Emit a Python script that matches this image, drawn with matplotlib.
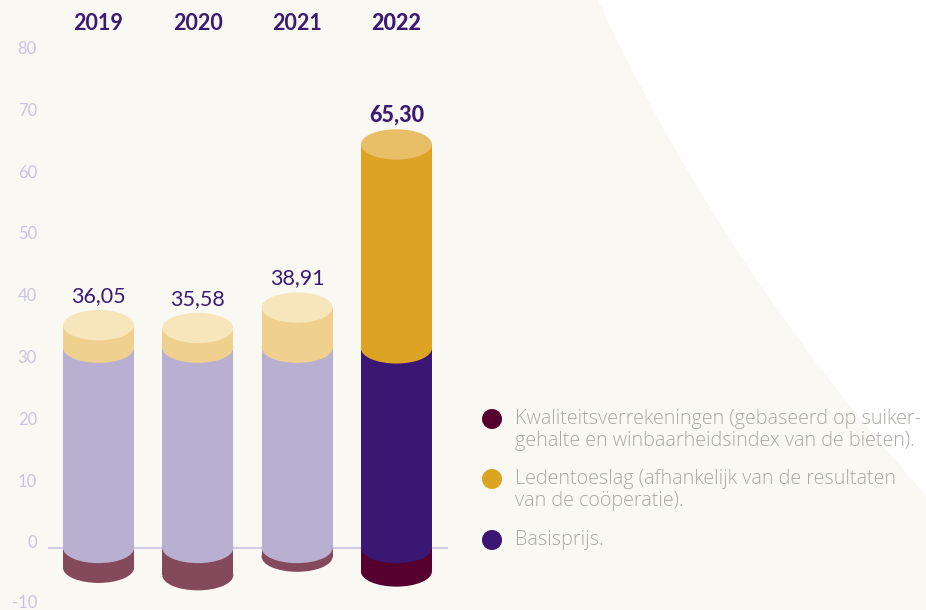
import matplotlib.pyplot as plt
from matplotlib.patches import Ellipse, Rectangle, Circle

years = ["2019", "2020", "2021", "2022"]
basis = [32.4, 32.4, 32.4, 32.3]          # Basisprijs
leden = [3.65, 3.2, 6.5, 33.0]            # Ledentoeslag
kwal = [-3.2, -4.4, -1.4, -3.8]           # Kwaliteitsverrekeningen
totals = [36.05, 35.58, 38.91, 65.30]
yticks = [-10, 0, 10, 20, 30, 40, 50, 60, 70, 80]
legend_labels = [
    "Kwaliteitsverrekeningen (gebaseerd op suiker-\ngehalte en winbaarheidsindex van de bieten).",
    "Ledentoeslag (afhankelijk van de resultaten\nvan de coöperatie).",
    "Basisprijs.",
]

# colours: faded for earlier years, full for 2022
c_basis = ["#B9AFD1", "#B9AFD1", "#B9AFD1", "#3A1772"]
c_leden = ["#EFD08F", "#EFD08F", "#EFD08F", "#DDA424"]
c_top = ["#F7E5BC", "#F7E5BC", "#F7E5BC", "#E8BE66"]
c_kwal = ["#84495A", "#84495A", "#84495A", "#560030"]
legend_colors = ["#560030", "#DDA424", "#3A1772"]

dark = "#3A1A73"
tick_col = "#CBC4DF"
grey = "#ABA7A4"
plt.rcParams["font.family"] = ["Lato", "DejaVu Sans"]

fig = plt.figure(figsize=(9.26, 6.10), dpi=100)
fig.patch.set_facecolor("#F9F8F3")

# background with white arc (pixel coordinates)
bg = fig.add_axes([0, 0, 1, 1])
bg.set_xlim(0, 926)
bg.set_ylim(610, 0)
bg.axis("off")
bg.add_patch(Circle((2403, -840), 1991, color="white", lw=0))

ax = fig.add_axes([0, 0, 1, 1])
ax.set_xlim(-0.992, 8.333)
ax.set_ylim(-10.03, 88.67)
ax.axis("off")
ax.patch.set_alpha(0)

w = 0.715
eh = 4.9

ax.plot([-0.5, 3.51], [0, 0], color="#D3CCE6", lw=1.5, zorder=1)

for t in yticks:
    off = 1.1 if t == yticks[0] else 0.75  # keep the lowest label inside
    ax.text(-0.62, t + off, str(t), ha="right", va="center", fontsize=12,
            color=tick_col, fontweight="normal")

for i in range(len(years)):
    z = 2 + i
    # negative segment
    ax.add_patch(Ellipse((i, kwal[i]), w, eh, color=c_kwal[i], lw=0, zorder=z))
    ax.add_patch(Rectangle((i - w / 2, kwal[i]), w, -kwal[i], color=c_kwal[i], lw=0, zorder=z))
    # basisprijs
    ax.add_patch(Ellipse((i, 0), w, eh, color=c_basis[i], lw=0, zorder=z))
    ax.add_patch(Rectangle((i - w / 2, 0), w, basis[i], color=c_basis[i], lw=0, zorder=z))
    # ledentoeslag
    top = basis[i] + leden[i]
    ax.add_patch(Ellipse((i, basis[i]), w, eh, color=c_leden[i], lw=0, zorder=z))
    ax.add_patch(Rectangle((i - w / 2, basis[i]), w, leden[i], color=c_leden[i], lw=0, zorder=z))
    ax.add_patch(Ellipse((i, top), w, eh, color=c_top[i], lw=0, zorder=z))

    last = i == len(years) - 1
    ax.text(i, 84.8, years[i], ha="center", va="center", fontsize=15.5, color=dark,
            fontweight="black" if last else "bold")
    ax.text(i, totals[i] + 4.7, f"{totals[i]:.2f}".replace(".", ","), ha="center",
            va="center", fontsize=15.5, color=dark,
            fontweight="black" if last else "normal")

# legend
ly = [430, 490, 540]
cy = [419, 479, 540]
for lab, col, y, c in zip(legend_labels, legend_colors, ly, cy):
    bg.add_patch(Circle((492, c), 10, color=col, lw=0))
    bg.text(515, y, lab, ha="left", va="center", fontsize=14.2, color=grey,
            family=["Open Sans", "DejaVu Sans"], fontweight="light", linespacing=1.1)

fig.savefig("out.png", dpi=100)
